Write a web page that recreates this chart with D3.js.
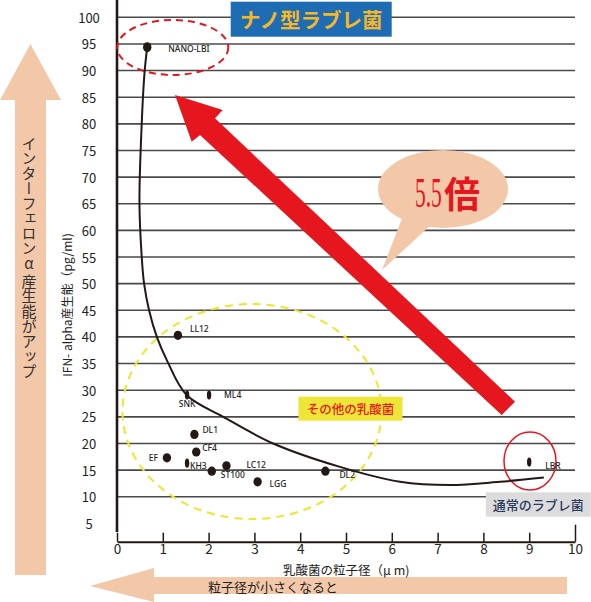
<!DOCTYPE html>
<html>
<head>
<meta charset="utf-8">
<script src="https://cdn.jsdelivr.net/npm/d3@7"></script>
<style>
  body { margin: 0; background: #fff; }
  svg { display: block; font-family: "Noto Sans CJK JP", "Noto Sans", sans-serif; }
</style>
</head>
<body>
<div id="chart"></div>
<script>
// data
const strainNames = ["NANO-LBI", "LL12", "SNK", "ML4", "DL1", "CF4", "EF", "KH3", "ST100", "LC12", "LGG", "DL2", "LBR"];
const particleSize = [0.66, 1.33, 1.53, 2.01, 1.69, 1.73, 1.09, 1.53, 2.07, 2.39, 3.07, 4.55, 9.0];
const ifnAlpha = [94.4, 40.3, 29.1, 29.1, 21.7, 18.4, 17.3, 16.3, 14.8, 15.8, 12.8, 14.8, 16.5];

// hand drawn trend line
const trendSize = [0.66, 0.6, 0.54, 0.49, 0.54, 0.59, 0.7, 0.87, 1.09, 1.52, 2.32, 3.41, 4.87, 6.18, 7.27, 8.36, 9.32];
const trendIfn = [94.4, 89.5, 80.1, 65.1, 55.0, 50.1, 45.0, 40.0, 35.6, 29.1, 25.0, 20.0, 15.6, 12.8, 12.2, 12.8, 13.6];

const xTicks = [0, 1, 2, 3, 4, 5, 6, 7, 8, 9, 10];
const yTicks = [5, 10, 15, 20, 25, 30, 35, 40, 45, 50, 55, 60, 65, 70, 75, 80, 85, 90, 95, 100];
const gridValues = yTicks.filter(v => v >= 10);

// label placement next to each dot (pixels)
const labelOffset = {
  "NANO-LBI": [21, 1, "start"],
  "LL12": [12, -7, "start"],
  "SNK": [0, 9, "middle"],
  "ML4": [15, 0, "start"],
  "DL1": [8, -5, "start"],
  "CF4": [6, -4, "start"],
  "EF": [-9, 0, "end"],
  "KH3": [3, 2, "start"],
  "ST100": [9, 3, "start"],
  "LC12": [20, -1, "start"],
  "LGG": [12, 2, "start"],
  "DL2": [14, 3, "start"],
  "LBR": [16, 3, "start"],
};
const narrowDots = ["SNK", "ML4", "KH3", "LBR"];

const RED = "#e6161e";
const PEACH = "#f2c8a9";
const INK = "#231815";

const width = 591, height = 602;
const axisY = 541.7;

const svg = d3.select("#chart")
  .append("svg")
  .attr("width", width)
  .attr("height", height);

const x = d3.scaleLinear().domain([0, 10]).range([117, 575]);
const y = d3.scaleLinear().domain([0, 100]).range([550, 17.3]);

// left arrow
svg.append("polygon")
  .attr("points", [[30.4, 44], [61, 100], [46, 100], [46, 575], [15, 575], [15, 100], [0, 100]].join(" "))
  .attr("fill", PEACH);
svg.append("text")
  .attr("x", 29)
  .attr("y", 257)
  .attr("text-anchor", "middle")
  .style("writing-mode", "vertical-rl")
  .style("text-orientation", "upright")
  .style("font-size", "15px")
  .style("fill", "#333")
  .text("インターフェロンα\u2009産生能がアップ");

// bottom arrow
svg.append("polygon")
  .attr("points", [[90, 586], [154, 568], [154, 577], [567, 577], [567, 594], [154, 594], [154, 602]].join(" "))
  .attr("fill", PEACH);
svg.append("text")
  .attr("x", 273)
  .attr("y", 586.5)
  .attr("text-anchor", "middle")
  .attr("dominant-baseline", "central")
  .style("font-size", "13px")
  .style("fill", "#222")
  .text("粒子径が小さくなると");

// grid lines
svg.append("g")
  .selectAll("line")
  .data(gridValues)
  .enter()
  .append("line")
  .attr("x1", x(0))
  .attr("x2", x(10))
  .attr("y1", d => y(d))
  .attr("y2", d => y(d))
  .attr("stroke", "#4a4a4a")
  .attr("stroke-width", 1.6);

// y tick labels
svg.append("g")
  .selectAll("text")
  .data(yTicks)
  .enter()
  .append("text")
  .attr("x", 89)
  .attr("y", d => y(d))
  .attr("text-anchor", "middle")
  .attr("dominant-baseline", "central")
  .style("font-size", "13px")
  .style("fill", "#222")
  .text(d => d);

// y axis line
svg.append("line")
  .attr("x1", x(0)).attr("x2", x(0))
  .attr("y1", 0).attr("y2", 532)
  .attr("stroke", INK)
  .attr("stroke-width", 2.6);

// x axis
const xAxis = svg.append("g")
  .attr("transform", `translate(0, ${axisY})`)
  .call(d3.axisBottom(x).tickValues(xTicks).tickSizeInner(-9).tickSizeOuter(0).tickPadding(3));
xAxis.select(".domain").attr("stroke", INK).attr("stroke-width", 2);
xAxis.selectAll(".tick line").attr("stroke", INK).attr("stroke-width", 1.5);
xAxis.selectAll(".tick").filter(d => d === 10).select("line").attr("y2", -17);
xAxis.selectAll(".tick text")
  .style("font-family", "'Noto Sans CJK JP', sans-serif")
  .style("font-size", "13.5px")
  .style("fill", "#222");

// axis titles
svg.append("text")
  .attr("transform", "translate(66, 305) rotate(-90)")
  .attr("text-anchor", "middle")
  .attr("dominant-baseline", "central")
  .style("font-size", "12px")
  .style("fill", "#222")
  .text("IFN- alpha産生能（pg/ml)");

svg.append("text")
  .attr("x", 283)
  .attr("y", 569)
  .attr("dominant-baseline", "central")
  .style("font-size", "12.5px")
  .style("fill", "#222")
  .text("乳酸菌の粒子径（μ m)");

// group outlines
svg.append("ellipse")
  .attr("cx", 252).attr("cy", 411.5).attr("rx", 129.5).attr("ry", 107.5)
  .attr("fill", "none")
  .attr("stroke", "#eee62e")
  .attr("stroke-width", 2)
  .attr("stroke-dasharray", "8,6");

svg.append("ellipse")
  .attr("cx", 172.8).attr("cy", 47.5).attr("rx", 55.5).attr("ry", 27.5)
  .attr("fill", "none")
  .attr("stroke", RED)
  .attr("stroke-width", 2)
  .attr("stroke-dasharray", "7,5");

svg.append("ellipse")
  .attr("cx", 530).attr("cy", 461).attr("rx", 26).attr("ry", 29)
  .attr("fill", "none")
  .attr("stroke", RED)
  .attr("stroke-width", 1.5);

// trend curve
const trend = trendSize.map((s, i) => ({ x: s, y: trendIfn[i] }));
const line = d3.line()
  .x(d => x(d.x))
  .y(d => y(d.y))
  .curve(d3.curveCatmullRom);

svg.append("path")
  .attr("d", line(trend))
  .attr("fill", "none")
  .attr("stroke", INK)
  .attr("stroke-width", 2);

// dots
const strains = strainNames.map((name, i) => ({ name, size: particleSize[i], ifn: ifnAlpha[i] }));

svg.append("g")
  .selectAll("ellipse")
  .data(strains)
  .enter()
  .append("ellipse")
  .attr("cx", d => x(d.size))
  .attr("cy", d => y(d.ifn))
  .attr("rx", d => narrowDots.includes(d.name) ? 2.2 : 4.2)
  .attr("ry", d => d.name === "NANO-LBI" ? 5 : 4.6)
  .attr("fill", INK);

svg.append("g")
  .selectAll("text")
  .data(strains)
  .enter()
  .append("text")
  .attr("x", d => x(d.size) + labelOffset[d.name][0])
  .attr("y", d => y(d.ifn) + labelOffset[d.name][1])
  .attr("text-anchor", d => labelOffset[d.name][2])
  .attr("dominant-baseline", "central")
  .style("font-family", "'Noto Sans', sans-serif")
  .style("font-size", "8.5px")
  .style("font-weight", 500)
  .style("fill", "#222")
  .text(d => d.name);

// big red arrow
svg.append("polygon")
  .attr("points", [[175, 95], [191.7, 141.7], [200, 135], [501.7, 415], [515, 401.7], [215, 118.3], [222.7, 110]].join(" "))
  .attr("fill", RED);

// speech bubble
svg.append("polygon")
  .attr("points", [[403, 216], [432, 224], [382, 270]].join(" "))
  .attr("fill", PEACH);
svg.append("ellipse")
  .attr("cx", 443).attr("cy", 189).attr("rx", 65).attr("ry", 39)
  .attr("fill", PEACH);
svg.append("g")
  .attr("transform", "translate(415, 207) scale(0.5, 1)")
  .append("text")
  .style("font-family", "'Liberation Serif', serif")
  .style("font-size", "43px")
  .style("fill", RED)
  .text("5.5");
svg.append("text")
  .attr("x", 444)
  .attr("y", 208)
  .style("font-size", "36px")
  .style("font-weight", 700)
  .style("fill", RED)
  .text("倍");

// tag boxes
const addTag = (cx, cy, w, h, fill, color, size, weight, label) => {
  svg.append("rect")
    .attr("x", cx - w / 2).attr("y", cy - h / 2)
    .attr("width", w).attr("height", h)
    .attr("fill", fill);
  svg.append("text")
    .attr("x", cx)
    .attr("y", cy)
    .attr("text-anchor", "middle")
    .attr("dominant-baseline", "central")
    .style("font-size", size)
    .style("font-weight", weight)
    .style("fill", color)
    .text(label);
};

addTag(311.2, 19.2, 161, 35, "#1e6db4", "#f5b727", "20.5px", 700, "ナノ型ラブレ菌");
addTag(350.5, 408.7, 104, 24, "#eee637", RED, "12.5px", 500, "その他の乳酸菌");
addTag(538.3, 504.5, 105, 24.4, "#dcdcdc", "#2b3a5e", "13px", 500, "通常のラブレ菌");
</script>
</body>
</html>
